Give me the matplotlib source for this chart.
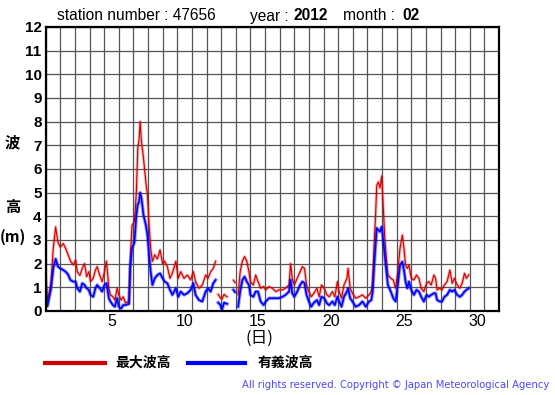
import numpy as np
import matplotlib
matplotlib.use("Agg")
from matplotlib import pyplot as plt
from matplotlib.lines import Line2D

# day position in the month (0 = 1st 00:00), nan = missing observation
days = [0.0, 0.12, 0.35, 0.52, 0.68, 0.84, 1.0, 1.2, 1.36, 1.52, 1.7, 1.89, 2.05, 2.16, 2.34,
        2.5, 2.66, 2.8, 2.95, 3.07, 3.25, 3.4, 3.52, 3.7, 3.86, 4.02, 4.16, 4.32, 4.43, 4.6,
        4.73, 4.89, 5.0, 5.16, 5.3, 5.45, 5.7, 5.78, 5.9, 6.07, 6.2, 6.3, 6.38, 6.46, 6.55,
        6.69, 6.85, 6.96, 7.07, 7.18, 7.3, 7.46, 7.64, 7.82, 8.0, 8.14, 8.32, 8.5, 8.66, 8.9,
        9.07, 9.23, 9.46, 9.69, 9.91, 10.1, 10.25, 10.48, 10.71, 10.94, 11.1, 11.28, 11.46, 11.62,
        11.7,
        11.8, 11.95, 12.05, 12.2, 12.4,
        12.6,
        12.84, 12.95,
        13.05,
        13.16, 13.3, 13.45, 13.6, 13.75, 13.9, 14.0, 14.2, 14.36, 14.52, 14.7, 14.9, 15.05, 15.27,
        15.5, 15.73, 15.95, 16.2, 16.4, 16.64, 16.75, 16.86, 17.0, 17.2, 17.4, 17.55, 17.7, 17.84,
        18.0, 18.16, 18.34, 18.55, 18.7, 18.86, 19.05, 19.23, 19.39, 19.61, 19.77, 19.95, 20.07,
        20.23, 20.4, 20.6, 20.68, 20.82, 20.98, 21.2, 21.43, 21.66, 21.89, 22.11, 22.27, 22.36,
        22.45, 22.57, 22.64, 22.75, 22.86, 22.98, 23.1, 23.18, 23.3, 23.4, 23.6, 23.77, 23.93,
        24.05, 24.23, 24.39, 24.5, 24.61, 24.73, 24.84, 25.0, 25.18, 25.36, 25.52, 25.68, 25.86,
        26.05, 26.2, 26.36, 26.55, 26.66, 26.77, 26.95, 27.1, 27.27, 27.45, 27.64, 27.8, 27.95,
        28.14, 28.32, 28.48, 28.64, 28.77, 28.93]

nan = np.nan
max_wave = [1.5, 0.45, 1.1, 2.65, 3.55, 2.9, 2.7, 2.85, 2.65, 2.4, 2.1, 1.95, 2.15, 1.66, 1.5,
            1.8, 2.0, 1.45, 1.66, 1.24, 1.38, 1.73, 1.87, 1.5, 1.24, 1.66, 2.1, 0.96, 0.68, 0.6,
            0.46, 0.96, 0.68, 0.46, 0.6, 0.35, 0.4, 2.1, 3.6, 3.8, 5.0, 6.9, 7.2, 8.0, 7.15,
            6.45, 5.45, 4.9, 3.63, 2.65, 2.1, 2.37, 2.2, 2.58, 2.0, 2.1, 1.87, 1.38, 1.59, 2.1,
            1.38, 1.66, 1.38, 1.52, 1.31, 1.66, 1.24, 0.96, 1.1, 1.52, 1.38, 1.66, 1.8, 2.1,
            nan,
            0.7, 0.55, 0.5, 0.7, 0.6,
            nan,
            1.3, 1.2,
            nan,
            0.68, 1.66, 2.1, 2.3, 2.1, 1.66, 1.24, 1.1, 1.52, 1.24, 0.96, 1.03, 0.89, 1.03,
            0.96, 0.82, 0.89, 0.89, 0.96, 1.1, 2.0, 1.38, 1.1, 1.38, 1.66, 1.87, 1.8, 1.1,
            0.82, 0.6, 0.75, 0.96, 0.6, 1.1, 0.96, 0.68, 0.6, 0.82, 0.6, 1.24, 0.82,
            0.54, 1.1, 1.38, 1.8, 0.96, 0.75, 0.54, 0.6, 0.68, 0.54, 0.68, 0.82, 1.24,
            2.65, 4.2, 5.3, 5.45, 5.2, 5.7, 4.2, 3.2, 2.2, 1.52, 1.38, 1.31, 0.96,
            1.52, 2.65, 3.2, 2.65, 1.94, 1.8, 1.94, 1.38, 1.31, 1.52, 1.38, 0.96, 0.82,
            1.17, 1.24, 1.1, 1.52, 1.38, 0.89, 0.96, 0.89, 1.1, 1.24, 1.73, 1.17, 1.38,
            1.1, 0.96, 1.17, 1.59, 1.38, 1.52]

sig_wave = [0.95, 0.2, 0.9, 1.8, 2.2, 1.87, 1.8, 1.73, 1.66, 1.55, 1.3, 1.24, 1.24, 0.96, 0.82,
            1.17, 1.1, 0.96, 0.89, 0.68, 0.6, 0.96, 1.1, 0.96, 0.82, 1.1, 1.17, 0.54, 0.4, 0.25,
            0.18, 0.54, 0.18, 0.1, 0.25, 0.25, 0.3, 1.8, 2.65, 2.9, 4.05, 4.5, 4.6, 5.0, 4.76,
            4.05, 3.63, 3.2, 2.37, 1.66, 1.1, 1.38, 1.52, 1.59, 1.38, 1.24, 1.17, 0.89, 0.68, 0.96,
            0.6, 0.82, 0.68, 0.75, 0.89, 1.17, 0.68, 0.46, 0.4, 0.82, 0.96, 0.82, 1.17, 1.31,
            nan,
            0.35, 0.25, 0.05, 0.35, 0.3,
            nan,
            0.89, 0.8,
            nan,
            0.18, 0.82, 1.31, 1.45, 1.24, 1.1, 0.68, 0.6, 0.82, 0.82, 0.4, 0.25, 0.4, 0.54,
            0.54, 0.54, 0.54, 0.6, 0.68, 0.82, 1.31, 0.75, 0.6, 0.82, 1.1, 1.24, 1.17, 0.68,
            0.4, 0.18, 0.35, 0.46, 0.25, 0.6, 0.54, 0.32, 0.25, 0.4, 0.25, 0.6, 0.4,
            0.18, 0.6, 0.82, 0.96, 0.54, 0.4, 0.18, 0.25, 0.4, 0.18, 0.4, 0.46, 0.82,
            1.8, 2.9, 3.5, 3.42, 3.35, 3.56, 2.9, 2.37, 1.66, 1.1, 0.82, 0.54, 0.4,
            0.96, 1.94, 2.08, 1.73, 1.24, 0.96, 1.24, 0.89, 0.68, 0.89, 0.82, 0.6, 0.4,
            0.68, 0.6, 0.68, 0.75, 0.75, 0.46, 0.4, 0.4, 0.6, 0.68, 0.89, 0.82, 0.89,
            0.68, 0.6, 0.68, 0.82, 0.89, 0.96]

day_labels = [5, 10, 15, 20, 25, 30]
y_labels = list(range(0, 13))

RED = "#d00000"
BLUE = "#0000ff"
jp = ["Noto Sans CJK JP", "DejaVu Sans"]
lib = "Liberation Sans"

fig = plt.figure(figsize=(5.55, 3.95), dpi=100)
ax = fig.add_axes([0.0823, 0.2127, 0.8168, 0.719])

# faint wider line underneath to mimic the dense hourly trace
ax.plot(days, max_wave, color=RED, lw=2.2, alpha=0.3, solid_joinstyle="round")
ax.plot(days, max_wave, color=RED, lw=0.8)
ax.plot(days, sig_wave, color=BLUE, lw=2.6, alpha=0.4, solid_joinstyle="round")
ax.plot(days, sig_wave, color=BLUE, lw=1.2)

ax.set_xlim(0, 31)
ax.set_ylim(0, 12)
ax.set_xticks(np.arange(0, 32), minor=True)
ax.set_xticks([d - 0.5 for d in day_labels])
ax.set_xticklabels([str(d) for d in day_labels], family=lib, fontsize=11.5)
ax.set_yticks(y_labels)
ax.set_yticklabels([str(v) for v in y_labels], family=lib, fontweight="bold", fontsize=11)
ax.tick_params(axis="both", which="both", length=0)
ax.tick_params(axis="y", pad=3)
ax.tick_params(axis="x", pad=2)
ax.grid(True, which="minor", axis="x", color="#555555", lw=0.9)
ax.grid(True, which="major", axis="y", color="#555555", lw=0.9)
ax.set_axisbelow(True)
for s in ax.spines.values():
    s.set_linewidth(1.6)
    s.set_color("black")

ty = 1 - 16 / 395
fig.text(57 / 555, ty, "station number : 47656", family=lib, fontsize=11.2, va="center")
fig.text(250 / 555, ty, "year :", family=lib, fontsize=11.2, va="center")
fig.text(294 / 555, ty, "2012", family=lib, fontsize=11.2, fontweight="bold", va="center")
fig.text(343 / 555, ty, "month :", family=lib, fontsize=11.2, va="center")
fig.text(402 / 555, ty, "02", family=lib, fontsize=11.2, fontweight="bold", va="center")

fig.text(5 / 555, 1 - 142 / 395, "波", family=jp, fontsize=11, fontweight="bold", va="center")
fig.text(5 / 555, 1 - 207 / 395, "高", family=jp, fontsize=11, fontweight="bold", va="center")
fig.text(0 / 555, 1 - 237 / 395, "(m)", family=jp, fontsize=11, fontweight="bold", va="center")
fig.text(259 / 555, 1 - 338 / 395, "(日)", family=jp, fontsize=12, ha="center", va="center")

# legend
fig.add_artist(Line2D([45 / 555, 105 / 555], [1 - 363 / 395] * 2, color=RED, lw=3))
fig.text(115 / 555, 1 - 363 / 395, "最大波高", family=jp, fontsize=10, fontweight="bold", va="center")
fig.add_artist(Line2D([188 / 555, 245 / 555], [1 - 363 / 395] * 2, color=BLUE, lw=3))
fig.text(258 / 555, 1 - 363 / 395, "有義波高", family=jp, fontsize=10, fontweight="bold", va="center")

fig.text(549 / 555, 1 - 385 / 395, "All rights reserved. Copyright \u00a9 Japan Meteorological Agency",
         family="DejaVu Sans", fontsize=7.2, color="#4a4aff", ha="right", va="center")

fig.savefig("out.png", dpi=100)
